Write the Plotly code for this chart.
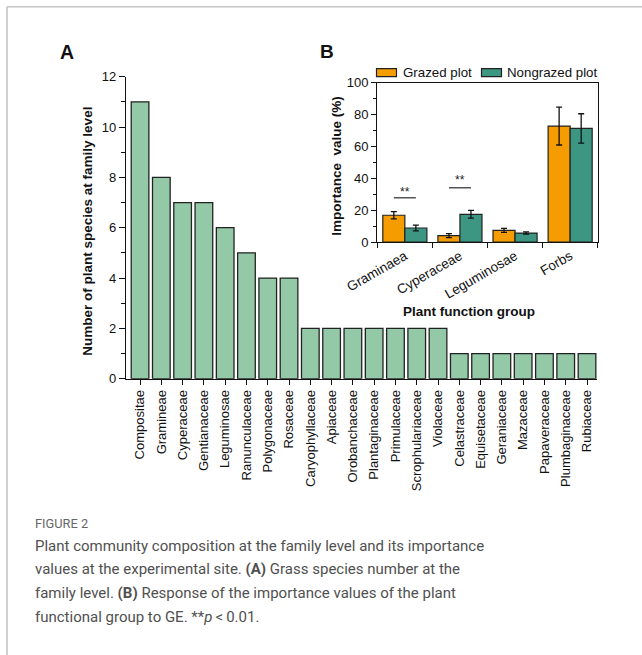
import plotly.graph_objects as go

W, H = 642, 655

# Panel A: species count per family
families = ["Compositae", "Gramineae", "Cyperaceae", "Gentianaceae", "Leguminosae",
            "Ranunculaceae", "Polygonaceae", "Rosaceae", "Caryophyllaceae", "Apiaceae",
            "Orobanchaceae", "Plantaginaceae", "Primulaceae", "Scrophulariaceae",
            "Violaceae", "Celastraceae", "Equisetaceae", "Geraniaceae", "Mazaceae",
            "Papaveraceae", "Plumbaginaceae", "Rubiaceae"]
species_counts = [11, 8, 7, 7, 6, 5, 4, 4, 2, 2, 2, 2, 2, 2, 2, 1, 1, 1, 1, 1, 1, 1]

# Panel B: importance value by functional group
groups = ["Graminaea", "Cyperaceae", "Leguminosae", "Forbs"]
grazed = [16.8, 4.0, 7.3, 72.8]
grazed_err = [2.3, 1.2, 1.3, 11.9]
nongrazed = [8.8, 17.4, 5.6, 71.3]
nongrazed_err = [1.8, 2.4, 0.7, 9.2]
sig_marks = [("**", 0, 27.8, 31.6), ("**", 1, 34.1, 38.9)]  # label, group, line y, text y

GREEN = "#93C9A7"
ORANGE = "#F49C00"
TEAL = "#3D9682"
EDGE = "#222222"
FONT = "Liberation Sans, Arial, sans-serif"


def px_x(x):
    return x / W


def px_y(y):
    return 1 - y / H


fig = go.Figure()

fig.add_trace(go.Bar(
    x=families, y=species_counts, width=0.83,
    marker=dict(color=GREEN, line=dict(color=EDGE, width=1.3)),
    xaxis="x", yaxis="y", showlegend=False,
))

fig.add_trace(go.Bar(
    x=groups, y=grazed, name="Grazed plot",
    marker=dict(color=ORANGE, line=dict(color=EDGE, width=1.2)),
    error_y=dict(type="data", array=grazed_err, color="#111", thickness=1.3, width=3),
    xaxis="x2", yaxis="y2", showlegend=False,
))
fig.add_trace(go.Bar(
    x=groups, y=nongrazed, name="Nongrazed plot",
    marker=dict(color=TEAL, line=dict(color=EDGE, width=1.2)),
    error_y=dict(type="data", array=nongrazed_err, color="#111", thickness=1.3, width=3),
    xaxis="x2", yaxis="y2", showlegend=False,
))


def axis_style(size=13):
    return dict(showline=True, linecolor="#111", linewidth=1.3, showgrid=False,
                zeroline=False, ticks="outside", tickcolor="#111", tickwidth=1.2,
                automargin=False,
                tickfont=dict(family=FONT, size=size, color="#111"))


fig.update_layout(
    template="none",
    width=W, height=H, margin=dict(l=0, r=0, t=0, b=0, pad=0),
    paper_bgcolor="white", plot_bgcolor="white",
    barmode="group", bargap=0.2, bargroupgap=0,
    xaxis=dict(domain=[px_x(126), px_x(597)], anchor="y", range=[-0.66, 21.47],
               tickangle=-90, ticklen=5, **axis_style(13)),
    yaxis=dict(domain=[px_y(378.7), px_y(76.7)], anchor="x", range=[0, 12],
               dtick=2, ticklen=6, tickangle=0,
               minor=dict(dtick=1, ticks="outside", ticklen=3.5, tickcolor="#111", tickwidth=1.2),
               **axis_style(13)),
    xaxis2=dict(domain=[px_x(377.3), px_x(597.7)], anchor="y2", range=[-0.5, 3.5],
                tickson="boundaries", ticklen=5, tickangle=-30, mirror=True,
                **axis_style(13.5)),
    yaxis2=dict(domain=[px_y(242), px_y(82.7)], anchor="x2", range=[0, 100],
                dtick=20, ticklen=5, mirror=True, tickangle=0,
                minor=dict(dtick=10, ticks="outside", ticklen=3, tickcolor="#111", tickwidth=1.2),
                **axis_style(13)),
)

shapes = []
annotations = []


def label(text, x, y, size, color="#111", family=FONT, angle=0, xanchor="center", weight=None):
    font = dict(family=family, size=size, color=color)
    if weight is not None:
        font["weight"] = weight
    return dict(text=text, xref="paper", yref="paper", x=px_x(x), y=px_y(y),
                xanchor=xanchor, yanchor="middle", textangle=angle, showarrow=False,
                font=font)


# Significance bars
for mark, gi, ly, ty in sig_marks:
    shapes.append(dict(type="line", xref="x2", yref="y2", x0=gi - 0.2, x1=gi + 0.2,
                       y0=ly, y1=ly, line=dict(color="#555", width=1.6)))
    annotations.append(dict(text=mark, xref="x2", yref="y2", x=gi, y=ty, showarrow=False,
                            xanchor="center", yanchor="middle",
                            font=dict(family=FONT, size=12, color="#222")))

# Legend for panel B
legend_items = [("Grazed plot", ORANGE, 376.5, 400.5), ("Nongrazed plot", TEAL, 481.5, 505)]
for text, color, sx, tx in legend_items:
    shapes.append(dict(type="rect", xref="paper", yref="paper",
                       x0=px_x(sx), x1=px_x(sx + 20), y0=px_y(76.7), y1=px_y(68.7),
                       fillcolor=color, line=dict(color=EDGE, width=1.2)))
    annotations.append(label(text, tx, 72.5, 13.3, xanchor="left"))

# Axis titles and panel letters
annotations += [
    label("<b>Number of plant species at family level</b>", 86.7, 231, 13.5, angle=-90),
    label("<b>Importance\u00a0 value (%)</b>", 336.7, 166, 13.5, angle=-90),
    label("<b>Plant function group</b>", 469, 311.7, 13.5),
    label("<b>A</b>", 67, 51.5, 19.5),
    label("<b>B</b>", 327, 51.7, 19),
]

# Figure caption
CAP_FONT = "Roboto, Lato, sans-serif"
annotations.append(label("FIGURE 2", 33, 523, 12.8, color="#666", family=CAP_FONT,
                         xanchor="left"))
caption_lines = [
    "Plant community composition at the family level and its importance",
    "values at the experimental site. <b>(A)</b> Grass species number at the",
    "family level. <b>(B)</b> Response of the importance values of the plant",
    "functional group to GE. **<i>p</i>\u2009&lt;\u20090.01.",
]
for i, line in enumerate(caption_lines):
    annotations.append(label(line, 33, 545.7 + 23.7 * i, 15.0, color="#505050",
                             family=CAP_FONT, xanchor="left"))

# Card border (top and left edges)
shapes += [
    dict(type="line", xref="paper", yref="paper", x0=px_x(7), x1=1, y0=px_y(6.7), y1=px_y(6.7),
         line=dict(color="#c4c4c4", width=1.6)),
    dict(type="line", xref="paper", yref="paper", x0=px_x(7), x1=px_x(7), y0=px_y(6.7), y1=0,
         line=dict(color="#c4c4c4", width=1.6)),
]

fig.update_layout(shapes=shapes, annotations=annotations)
fig.write_html("out.html")
